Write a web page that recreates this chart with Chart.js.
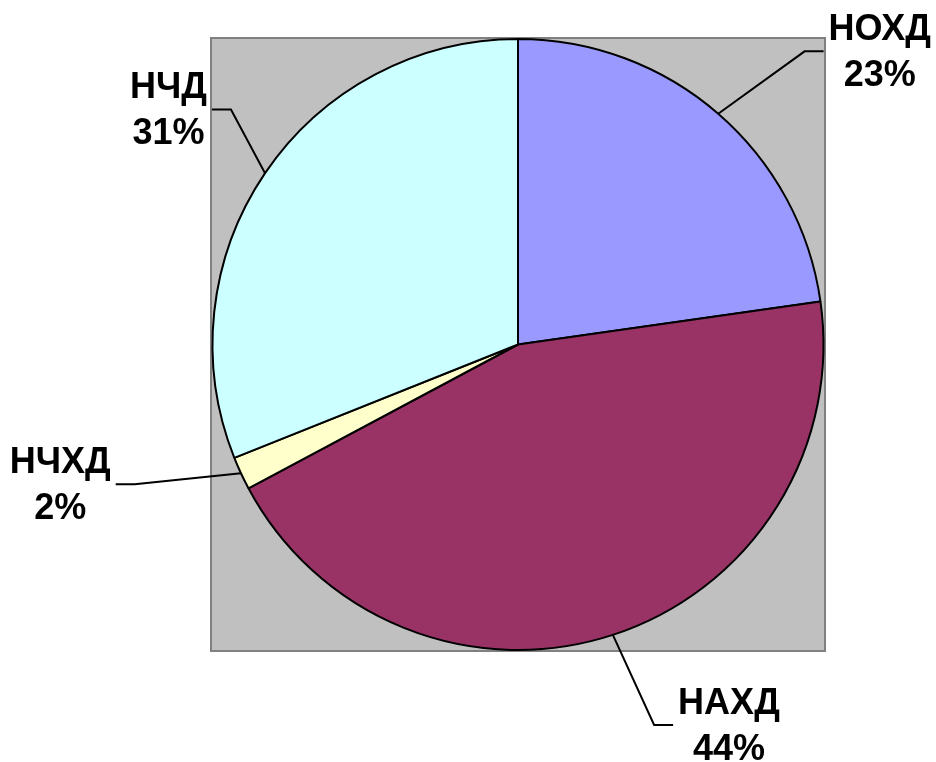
<!DOCTYPE html>
<html>
<head>
<meta charset="utf-8">
<title>Pie</title>
<script src="https://cdn.jsdelivr.net/npm/chart.js@4.4.1/dist/chart.umd.min.js"></script>
<style>
  body { margin: 0; background: #ffffff; }
  #wrap { width: 936px; height: 762px; }
</style>
</head>
<body>
<div id="wrap"><canvas id="pieChart" width="936" height="762"></canvas></div>
<script>
// data
const labels = ['НОХД', 'НАХД', 'НЧХД', 'НЧД'];
const shares = [22.75, 44.45, 1.75, 31.05];
const colors = ['#9999FF', '#993366', '#FFFFCC', '#CCFFFF'];

// where each leader line bends: angle shift (deg) and distance from centre
const elbowShift = [3.4, -1.6, 4.9, 5.2];
const elbowDist = [410, 404, 408, 371];

// grey plot area behind the pie
const plotArea = {
  id: 'plotArea',
  beforeDatasetsDraw(chart) {
    const a = chart.chartArea;
    const ctx = chart.ctx;
    ctx.save();
    ctx.fillStyle = '#C0C0C0';
    ctx.fillRect(a.left, a.top, a.right - a.left, a.bottom - a.top);
    ctx.strokeStyle = '#808080';
    ctx.lineWidth = 2;
    ctx.strokeRect(a.left, a.top, a.right - a.left, a.bottom - a.top);
    ctx.restore();
  }
};

// labels with leader lines, as Excel draws them
const leaderLabels = {
  id: 'leaderLabels',
  afterDatasetsDraw(chart) {
    const ctx = chart.ctx;
    const meta = chart.getDatasetMeta(0);
    const total = shares.reduce((s, v) => s + v, 0);
    ctx.save();
    ctx.font = 'bold 36px "Liberation Sans", Arial, sans-serif';
    ctx.fillStyle = '#000000';
    ctx.strokeStyle = '#000000';
    ctx.lineWidth = 2;
    meta.data.forEach((arc, i) => {
      const mid = (arc.startAngle + arc.endAngle) / 2;
      const r = arc.outerRadius;
      const sx = arc.x + r * Math.cos(mid);
      const sy = arc.y + r * Math.sin(mid);
      const ang = mid + elbowShift[i] * Math.PI / 180;
      const ex = arc.x + elbowDist[i] * Math.cos(ang);
      const ey = arc.y + elbowDist[i] * Math.sin(ang);
      const right = Math.cos(mid) > 0;
      const hx = right ? ex + 19 : ex - 19;

      ctx.beginPath();
      ctx.moveTo(sx, sy);
      ctx.lineTo(ex, ey);
      ctx.lineTo(hx, ey);
      ctx.stroke();

      const pct = Math.round(shares[i] / total * 100) + '%';
      const w = Math.max(ctx.measureText(labels[i]).width, ctx.measureText(pct).width);
      const cx = right ? hx + 5 + w / 2 : hx - 5 - w / 2;
      ctx.textAlign = 'center';
      ctx.textBaseline = 'middle';
      ctx.fillText(labels[i], cx, ey - 21);
      ctx.fillText(pct, cx, ey + 25);
    });
    ctx.restore();
  }
};

new Chart(document.getElementById('pieChart').getContext('2d'), {
  type: 'pie',
  data: {
    labels: labels,
    datasets: [{
      data: shares,
      backgroundColor: colors,
      borderColor: '#000000',
      borderWidth: 2,
      hoverOffset: 0
    }]
  },
  options: {
    responsive: false,
    animation: false,
    layout: { padding: { left: 211, right: 111, top: 38, bottom: 111 } },
    plugins: {
      legend: { display: false },
      tooltip: { enabled: false }
    }
  },
  plugins: [plotArea, leaderLabels]
});
</script>
</body>
</html>
